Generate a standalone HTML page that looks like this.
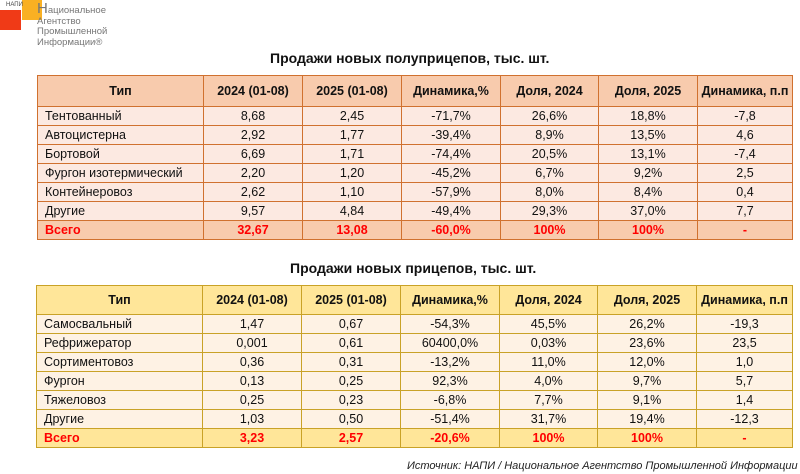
<!DOCTYPE html>
<html><head><meta charset="utf-8"><style>
body{margin:0;width:800px;height:474px;background:#fff;font-family:"Liberation Sans",Arial,sans-serif;position:relative;overflow:hidden}
.t{position:absolute;border-collapse:collapse;table-layout:fixed;font-size:12.5px;color:#111}
.t td{padding:0;text-align:center;white-space:nowrap;overflow:hidden}
.t td:first-child{text-align:left;padding-left:7px}
.h td{font-weight:bold;text-align:center!important;padding-left:0!important}
.tot td{color:#f00;font-weight:bold}
#t1 td{border:1.5px solid #d0712f}
#t1 .h td,#t1 .tot td{background:#f8cbad}
#t1 .b td{background:#fce9e1}
#t2 td{border:1.5px solid #c9a227}
#t2 .h td,#t2 .tot td{background:#ffe699}
#t2 .b td{background:#fef2e4}
.title{position:absolute;font-weight:bold;font-size:14px;color:#111}
</style></head><body>
<div style="position:absolute;left:0;top:10px;width:21px;height:20px;background:#f03a17"></div>
<div style="position:absolute;left:22px;top:0;width:20px;height:20px;background:#f9b023"></div>
<div style="position:absolute;left:6px;top:2px;font-size:6px;color:#444">НАПИ</div>
<div style="position:absolute;left:37px;top:4px;font-size:9.5px;line-height:10.5px;color:#777;font-family:'Liberation Sans Narrow','Liberation Sans',sans-serif"><span style="font-size:15px">Н</span>ациональное<br>Агентство<br>Промышленной<br>Информации®</div>
<div class="title" style="left:270px;top:50px">Продажи новых полуприцепов, тыс. шт.</div>
<table class="t" id="t1" style="left:37px;top:75px;width:755px">
<colgroup><col style="width:166px"><col style="width:99px"><col style="width:99px"><col style="width:99px"><col style="width:98px"><col style="width:99px"><col style="width:95px"></colgroup>
<tr class="h" style="height:31px"><td>Тип</td><td>2024 (01-08)</td><td>2025 (01-08)</td><td>Динамика,%</td><td>Доля, 2024</td><td>Доля, 2025</td><td>Динамика, п.п</td></tr>
<tr class="b" style="height:19px"><td>Тентованный</td><td>8,68</td><td>2,45</td><td>-71,7%</td><td>26,6%</td><td>18,8%</td><td>-7,8</td></tr>
<tr class="b" style="height:19px"><td>Автоцистерна</td><td>2,92</td><td>1,77</td><td>-39,4%</td><td>8,9%</td><td>13,5%</td><td>4,6</td></tr>
<tr class="b" style="height:19px"><td>Бортовой</td><td>6,69</td><td>1,71</td><td>-74,4%</td><td>20,5%</td><td>13,1%</td><td>-7,4</td></tr>
<tr class="b" style="height:19px"><td>Фургон изотермический</td><td>2,20</td><td>1,20</td><td>-45,2%</td><td>6,7%</td><td>9,2%</td><td>2,5</td></tr>
<tr class="b" style="height:19px"><td>Контейнеровоз</td><td>2,62</td><td>1,10</td><td>-57,9%</td><td>8,0%</td><td>8,4%</td><td>0,4</td></tr>
<tr class="b" style="height:19px"><td>Другие</td><td>9,57</td><td>4,84</td><td>-49,4%</td><td>29,3%</td><td>37,0%</td><td>7,7</td></tr>
<tr class="tot" style="height:19px"><td>Всего</td><td>32,67</td><td>13,08</td><td>-60,0%</td><td>100%</td><td>100%</td><td>-</td></tr>
</table>
<div class="title" style="left:290px;top:260px">Продажи новых прицепов, тыс. шт.</div>
<table class="t" id="t2" style="left:36px;top:285px;width:756px">
<colgroup><col style="width:166px"><col style="width:99px"><col style="width:99px"><col style="width:99px"><col style="width:98px"><col style="width:99px"><col style="width:96px"></colgroup>
<tr class="h" style="height:29px"><td>Тип</td><td>2024 (01-08)</td><td>2025 (01-08)</td><td>Динамика,%</td><td>Доля, 2024</td><td>Доля, 2025</td><td>Динамика, п.п</td></tr>
<tr class="b" style="height:19px"><td>Самосвальный</td><td>1,47</td><td>0,67</td><td>-54,3%</td><td>45,5%</td><td>26,2%</td><td>-19,3</td></tr>
<tr class="b" style="height:19px"><td>Рефрижератор</td><td>0,001</td><td>0,61</td><td>60400,0%</td><td>0,03%</td><td>23,6%</td><td>23,5</td></tr>
<tr class="b" style="height:19px"><td>Сортиментовоз</td><td>0,36</td><td>0,31</td><td>-13,2%</td><td>11,0%</td><td>12,0%</td><td>1,0</td></tr>
<tr class="b" style="height:19px"><td>Фургон</td><td>0,13</td><td>0,25</td><td>92,3%</td><td>4,0%</td><td>9,7%</td><td>5,7</td></tr>
<tr class="b" style="height:19px"><td>Тяжеловоз</td><td>0,25</td><td>0,23</td><td>-6,8%</td><td>7,7%</td><td>9,1%</td><td>1,4</td></tr>
<tr class="b" style="height:19px"><td>Другие</td><td>1,03</td><td>0,50</td><td>-51,4%</td><td>31,7%</td><td>19,4%</td><td>-12,3</td></tr>
<tr class="tot" style="height:19px"><td>Всего</td><td>3,23</td><td>2,57</td><td>-20,6%</td><td>100%</td><td>100%</td><td>-</td></tr>
</table>
<div style="position:absolute;left:407px;top:460px;font-size:11px;font-style:italic;color:#222">Источник: НАПИ / Национальное Агентство Промышленной Информации</div>
</body></html>
